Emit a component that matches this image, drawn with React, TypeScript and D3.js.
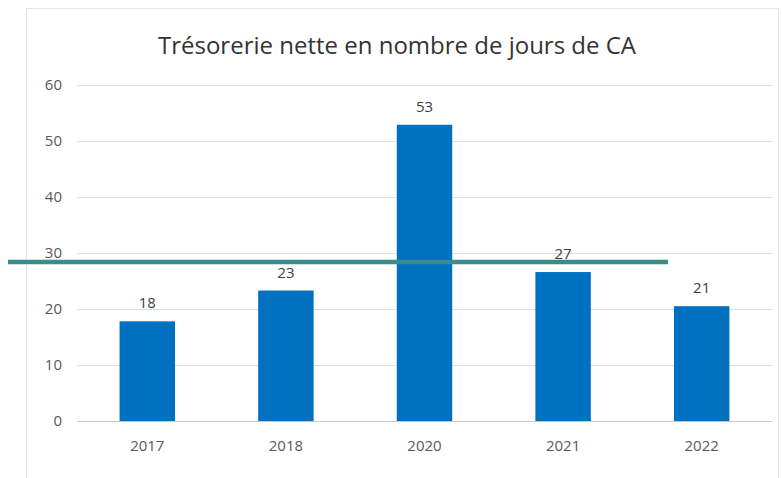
import * as d3 from "d3";
import { useRef, useEffect } from "react";

const years = ["2017", "2018", "2020", "2021", "2022"];
const values = [17.8, 23.3, 52.9, 26.6, 20.5];
const labels = ["18", "23", "53", "27", "21"];
const yTicks = [0, 10, 20, 30, 40, 50, 60];
const title = "Trésorerie nette en nombre de jours de CA";
const overlayLevel = 28.4; // teal line drawn across the chart

export default function App() {
  const svgRef = useRef<SVGSVGElement>(null);
  const width = 782;
  const height = 478;
  const marginLeft = 77;
  const marginRight = 10;
  const marginTop = 85;
  const bottomY = 421;

  useEffect(() => {
    const svg = d3.select(svgRef.current);
    svg.selectAll("*").remove();

    const font = "'Open Sans', 'Liberation Sans', sans-serif";

    svg.append("rect")
      .attr("width", width)
      .attr("height", height)
      .attr("fill", "#fff");

    // chart frame
    svg.append("rect")
      .attr("x", 26.5)
      .attr("y", 8.5)
      .attr("width", 752)
      .attr("height", 475)
      .attr("fill", "#fff")
      .attr("stroke", "#e6e6e6");

    const x = d3.scaleBand()
      .domain(years)
      .range([78, 771])
      .paddingInner(0.6)
      .paddingOuter(0.3);

    const y = d3.scaleLinear()
      .domain([0, 60])
      .range([bottomY, marginTop]);

    // gridlines
    svg.append("g")
      .selectAll("line")
      .data(yTicks)
      .enter()
      .append("line")
      .attr("x1", marginLeft)
      .attr("x2", width - marginRight)
      .attr("y1", d => y(d) + 0.5)
      .attr("y2", d => y(d) + 0.5)
      .attr("stroke", d => d === 0 ? "#c8c8c8" : "#dedede")
      .attr("stroke-width", 1.2);

    const yAxis = d3.axisLeft(y).tickValues(yTicks).tickSize(0).tickPadding(0);
    const gy = svg.append("g")
      .attr("transform", `translate(62,0)`)
      .call(yAxis);
    gy.select(".domain").remove();
    gy.selectAll("text")
      .attr("fill", "#595959")
      .style("font-family", font)
      .style("font-size", "15px");

    svg.append("g")
      .selectAll("rect")
      .data(values)
      .enter()
      .append("rect")
      .attr("x", (d, i) => x(years[i])!)
      .attr("y", d => y(d))
      .attr("width", x.bandwidth())
      .attr("height", d => bottomY - y(d))
      .attr("fill", "#0070c0");

    svg.append("g")
      .selectAll("text")
      .data(values)
      .enter()
      .append("text")
      .attr("x", (d, i) => x(years[i])! + x.bandwidth() / 2)
      .attr("y", d => y(d) - 13)
      .attr("text-anchor", "middle")
      .attr("fill", "#404040")
      .style("font-family", font)
      .style("font-size", "15px")
      .text((d, i) => labels[i]);

    const xAxis = d3.axisBottom(x).tickSize(0).tickPadding(0);
    const gx = svg.append("g")
      .attr("transform", `translate(0,${bottomY + 16})`)
      .call(xAxis);
    gx.select(".domain").remove();
    gx.selectAll("text")
      .attr("fill", "#595959")
      .attr("dy", "0.9em")
      .style("font-family", font)
      .style("font-size", "15px");

    svg.append("text")
      .attr("x", 397)
      .attr("y", 54)
      .attr("text-anchor", "middle")
      .attr("fill", "#333")
      .style("font-family", font)
      .style("font-size", "24px")
      .text(title);

    svg.append("line")
      .attr("x1", 8)
      .attr("x2", 668)
      .attr("y1", y(overlayLevel))
      .attr("y2", y(overlayLevel))
      .attr("stroke", "#3b8b8d")
      .attr("stroke-width", 4.5);
  }, []);

  return (
    <svg
      ref={svgRef}
      width={width}
      height={height}
      style={{ position: "absolute", left: 0, top: 0 }}
    ></svg>
  );
}
